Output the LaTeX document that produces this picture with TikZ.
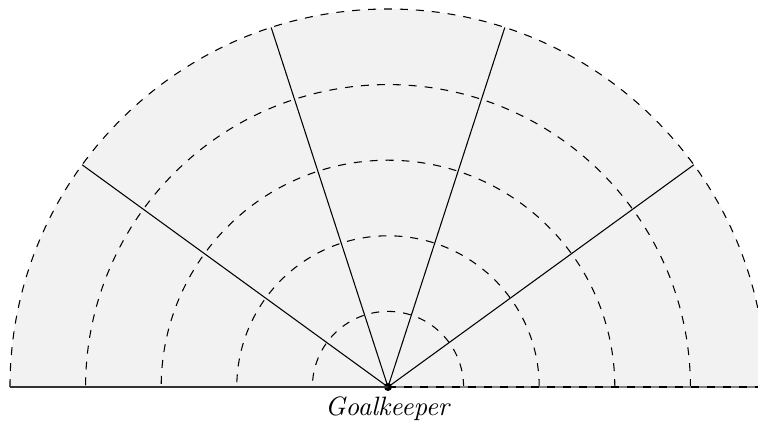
\documentclass[tikz,border=0pt]{standalone}
\usetikzlibrary{positioning}

\begin{document}
\begin{tikzpicture}
    \tikzset{
    ring/.style={
        dashed
    },
    ray/.style={
        black
    },
    keeperdot/.style={
        circle,
        fill=black,
        inner sep=0pt,
        minimum size=3pt
    }
}
        \useasboundingbox (-5.132,-0.450) rectangle (4.894,5.119);

        \fill[black!5] (5,0) arc[start angle=0, end angle=180, radius=5] -- cycle;

        \node[keeperdot] (keeper) at (0,0) {};
        \node[below=0pt of keeper.center] (label) {\textit{Goalkeeper}};

        \coordinate (left) at (-5,0);
        \coordinate (right) at (5,0);

        % zones
        \draw[ring] (1,0) arc[start angle=0, end angle=180, radius=1];
        \draw[ring] (2,0) arc[start angle=0, end angle=180, radius=2];
        \draw[ring] (3,0) arc[start angle=0, end angle=180, radius=3];
        \draw[ring] (4,0) arc[start angle=0, end angle=180, radius=4];
        \draw[ring] (5,0) arc[start angle=0, end angle=180, radius=5];

        % sectors
        \coordinate (ray1) at (36:5);
        \coordinate (ray2) at (72:5);
        \coordinate (ray3) at (108:5);
        \coordinate (ray4) at (144:5);

        \draw[ray] (keeper.center) -- (ray1);
        \draw[ray] (keeper.center) -- (ray2);
        \draw[ray] (keeper.center) -- (ray3);
        \draw[ray] (keeper.center) -- (ray4);

        \draw[gray, thick] (keeper.center) -- (right);
        \draw[ring] (keeper.center) -- (right);
        \draw[black!80, semithick] (left) -- (keeper.center);
    \end{tikzpicture}
\end{document}
